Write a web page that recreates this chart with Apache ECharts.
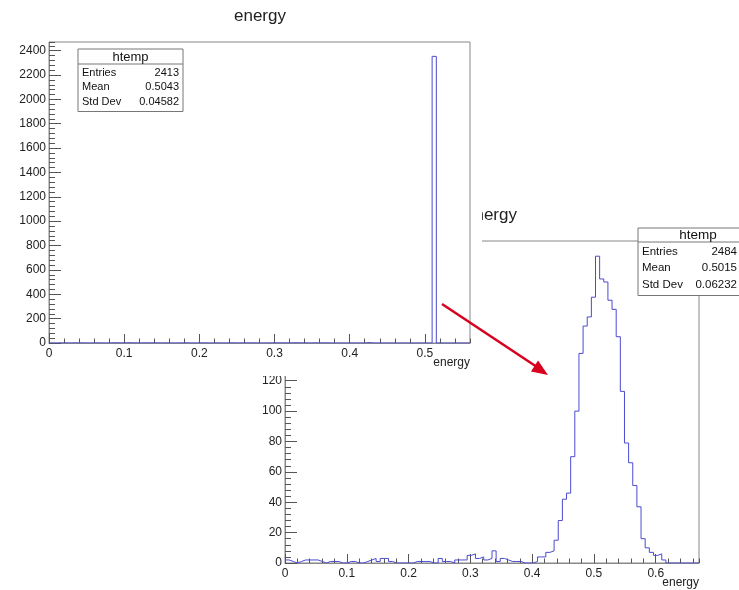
<!DOCTYPE html>
<html>
<head>
<meta charset="utf-8">
<script src="https://cdn.jsdelivr.net/npm/echarts@6/dist/echarts.min.js"></script>
<style>
html, body { margin: 0; padding: 0; background: #fff; }
#main { width: 739px; height: 590px; }
</style>
</head>
<body>
<div id="main"></div>
<script>
// first histogram (upper left), 100 bins from 0 to 0.56
var range1 = [0, 0.56];
var counts1 = [
  0, 0, 1, 1, 0, 1, 1, 1, 0, 0,
  1, 1, 0, 0, 1, 2, 1, 1, 2, 1,
  1, 0, 1, 1, 1, 1, 0, 1, 0, 0,
  0, 1, 1, 0, 0, 1, 1, 0, 0, 1,
  0, 0, 1, 1, 0, 1, 1, 1, 1, 0,
  0, 0, 1, 2, 1, 1, 1, 1, 2, 1,
  1, 0, 1, 1, 1, 1, 0, 0, 0, 0,
  0, 0, 0, 0, 0, 4, 0, 0, 0, 0,
  0, 0, 0, 0, 0, 0, 0, 0, 0, 0,
  0, 2353, 0, 0, 0, 0, 0, 0, 0, 0
];
var yMax1 = 2471;
var stats1 = [['Entries', '2413'], ['Mean', '0.5043'], ['Std Dev', '0.04582']];

// second histogram (lower right), 100 bins from 0 to 0.67
var range2 = [0, 0.67];
var counts2 = [
  2, 1, 0, 1, 2, 2, 2, 2, 1, 0,
  1, 1, 1, 0, 0, 1, 1, 0, 0, 1,
  2, 3, 1, 3, 3, 1, 0, 0, 0, 0,
  0, 1, 1, 1, 1, 0, 0, 3, 1, 1,
  0, 2, 2, 2, 5, 6, 3, 4, 2, 3,
  8, 1, 3, 2, 1, 1, 1, 0, 0, 0,
  1, 4, 4, 7, 8, 15, 28, 42, 46, 70,
  100, 138, 156, 162, 175, 202, 187, 185, 173, 167,
  149, 113, 79, 66, 51, 37, 16, 10, 7, 5,
  6, 2, 0, 0, 0, 0, 0, 0, 0, 0
];
var yMax2 = 212;
var stats2 = [['Entries', '2484'], ['Mean', '0.5015'], ['Std Dev', '0.06232']];

var font = 'Liberation Sans, Arial, Helvetica, sans-serif';
var histColor = '#4b4bd1';
var red = '#d8001e';

// step outline points: bin left edges plus the final right edge
function histPoints(counts, range) {
  var w = (range[1] - range[0]) / counts.length;
  var pts = counts.map(function (c, i) { return [range[0] + i * w, c]; });
  pts.push([range[1], counts[counts.length - 1]]);
  return pts;
}

function plain(v) { return String(v); }

function majorX(grid, range, z) {
  return {
    gridIndex: grid, type: 'value', position: 'bottom', min: range[0], max: range[1], interval: 0.1, z: z,
    axisLine: { show: true, lineStyle: { color: '#888' } },
    axisTick: { inside: true, length: 9, lineStyle: { color: '#555' } },
    axisLabel: { showMaxLabel: false, fontSize: 12, color: '#222', margin: 5, fontFamily: font },
    splitLine: { show: false }
  };
}
function minorX(grid, range, z) {
  return {
    gridIndex: grid, type: 'value', position: 'bottom', min: range[0], max: range[1], interval: 0.02, z: z,
    axisLine: { show: false }, axisLabel: { show: false }, splitLine: { show: false },
    axisTick: { inside: true, length: 4.5, lineStyle: { color: '#555' } }
  };
}
function majorY(grid, max, step, z) {
  return {
    gridIndex: grid, type: 'value', position: 'left', min: 0, max: max, interval: step, z: z,
    axisLine: { show: true, lineStyle: { color: '#888' } },
    axisTick: { inside: true, length: 12, lineStyle: { color: '#555' } },
    axisLabel: { showMaxLabel: false, fontSize: 12, color: '#222', margin: 3, fontFamily: font, formatter: plain },
    splitLine: { show: false }
  };
}
function minorY(grid, max, step, z) {
  return {
    gridIndex: grid, type: 'value', position: 'left', min: 0, max: max, interval: step, z: z,
    axisLine: { show: false }, axisLabel: { show: false }, splitLine: { show: false },
    axisTick: { inside: true, length: 6, lineStyle: { color: '#555' } }
  };
}

function statsBox(x, y, w, headH, rowH, rows, valRight, fs, z) {
  var els = [];
  var h = headH + rowH * rows.length + 4;
  els.push({ type: 'rect', z: z, shape: { x: x, y: y, width: w, height: h },
    style: { fill: '#fff', stroke: '#777', lineWidth: 1 } });
  els.push({ type: 'line', z: z, shape: { x1: x, y1: y + headH, x2: x + w, y2: y + headH },
    style: { stroke: '#777', lineWidth: 1 } });
  els.push({ type: 'text', z: z, style: { text: 'htemp', x: x + w / 2, y: y + headH / 2 + 0.5,
    align: 'center', verticalAlign: 'middle', fontSize: fs + 2, fontFamily: font, fill: '#111' } });
  rows.forEach(function (r, i) {
    var cy = y + headH + rowH * (i + 0.5) + 1.5;
    els.push({ type: 'text', z: z, style: { text: r[0], x: x + 4, y: cy, align: 'left', verticalAlign: 'middle',
      fontSize: fs, fontFamily: font, fill: '#111' } });
    els.push({ type: 'text', z: z, style: { text: r[1], x: valRight, y: cy, align: 'right', verticalAlign: 'middle',
      fontSize: fs, fontFamily: font, fill: '#111' } });
  });
  return els;
}

// x axis title under the right end of each frame
function axisName(right, cy, z) {
  return { type: 'text', z: z, style: { text: 'energy', x: right, y: cy, align: 'right', verticalAlign: 'middle',
    fontSize: 12, fontFamily: font, fill: '#222' } };
}

var chart = echarts.init(document.getElementById('main'));

var graphics = [
  // white canvas of the first picture, hiding the upper left of the second
  { type: 'rect', z: 5, shape: { x: 0, y: 0, width: 482, height: 376 }, style: { fill: '#fff' } },
  axisName(470, 363, 12),
  axisName(699, 583, 2)
];
graphics = graphics.concat(statsBox(78, 49, 105, 15, 14.5, stats1, 179, 11, 13));
graphics = graphics.concat(statsBox(638, 228, 120, 14, 16.5, stats2, 737, 11.5, 14));
graphics.push({ type: 'line', z: 20, shape: { x1: 442, y1: 304, x2: 537, y2: 367 },
  style: { stroke: red, lineWidth: 2.5 } });
graphics.push({ type: 'polygon', z: 20, shape: { points: [[548, 375], [531, 371.5], [538, 360.5]] },
  style: { fill: red } });

var option = {
  animation: false,
  backgroundColor: '#fff',
  title: [
    { text: 'energy', left: 255, top: 3, textAlign: 'center', z: 12,
      textStyle: { fontSize: 17, fontWeight: 'normal', color: '#222', fontFamily: font } },
    { text: 'energy', left: 486, top: 202, textAlign: 'center', z: 2,
      textStyle: { fontSize: 17, fontWeight: 'normal', color: '#222', fontFamily: font } }
  ],
  grid: [
    { left: 49, top: 42, width: 421, height: 301, show: true, borderColor: '#888', borderWidth: 1,
      backgroundColor: 'transparent', z: 10 },
    { left: 285, top: 241, width: 414, height: 322, show: true, borderColor: '#888', borderWidth: 1,
      backgroundColor: 'transparent', z: 1 }
  ],
  xAxis: [
    majorX(0, range1, 11), minorX(0, range1, 11),
    majorX(1, range2, 1), minorX(1, range2, 1)
  ],
  yAxis: [
    majorY(0, yMax1, 200, 11), minorY(0, yMax1, 40, 11),
    majorY(1, yMax2, 20, 1), minorY(1, yMax2, 4, 1)
  ],
  series: [
    { type: 'line', xAxisIndex: 0, yAxisIndex: 0, data: histPoints(counts1, range1), step: 'end',
      symbol: 'none', lineStyle: { color: histColor, width: 1 }, z: 12 },
    { type: 'line', xAxisIndex: 2, yAxisIndex: 2, data: histPoints(counts2, range2), step: 'end',
      symbol: 'none', lineStyle: { color: histColor, width: 1 }, z: 2 }
  ],
  graphic: graphics
};

chart.setOption(option);
</script>
</body>
</html>
